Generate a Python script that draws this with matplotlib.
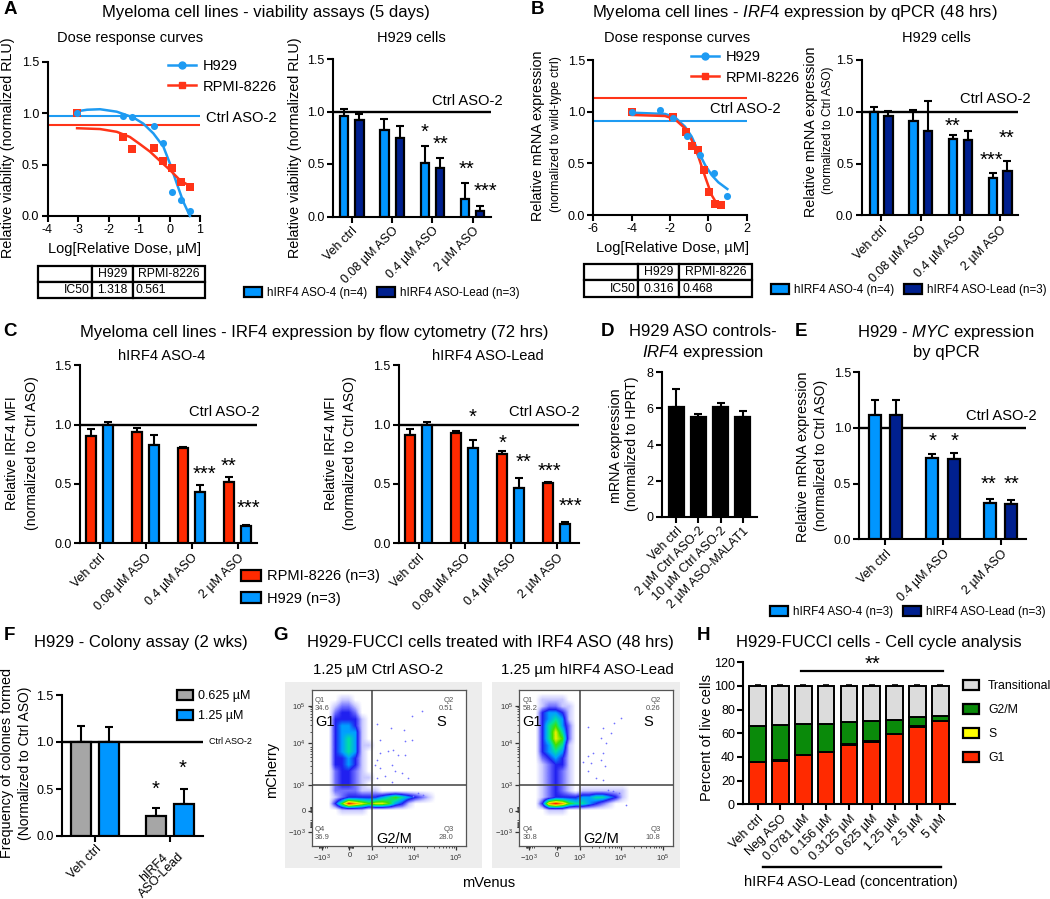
import numpy as np
import matplotlib
matplotlib.use("Agg")
import matplotlib.pyplot as plt
from matplotlib.colors import LinearSegmentedColormap
from matplotlib.lines import Line2D
from matplotlib.patches import Patch, Rectangle

plt.rcParams["font.family"] = ["Liberation Sans", "DejaVu Sans"]
plt.rcParams["mathtext.fontset"] = "custom"
plt.rcParams["mathtext.rm"] = "Liberation Sans"
plt.rcParams["mathtext.it"] = "Liberation Sans:italic"
plt.rcParams["mathtext.default"] = "regular"

W, H = 1050, 899
BLUE = "#0096FF"
NAVY = "#00208F"
RED = "#FF2A00"
GREY = "#A6A6A6"
LINE_BLUE = "#1E9BF2"
LINE_RED = "#FF3418"

# panel A dose response
a_h929_x = [-3.03, -1.53, -1.22, -0.52, -0.21, 0.08, 0.39, 0.68]
a_h929_y = [1.0, 0.974, 0.967, 0.88, 0.714, 0.23, 0.156, 0.05]
a_rpmi_x = [-3.03, -1.53, -1.22, -0.52, -0.21, 0.08, 0.39, 0.68]
a_rpmi_y = [1.0, 0.77, 0.65, 0.66, 0.54, 0.467, 0.334, 0.28]
a_h929_fit_x = [-3.03, -2.7, -2.28, -1.73, -1.19, -0.86, -0.53, -0.2, 0.015, 0.235, 0.45, 0.67]
a_h929_fit_y = [1.02, 1.035, 1.04, 1.016, 0.96, 0.90, 0.805, 0.675, 0.51, 0.32, 0.14, 0.0]
a_rpmi_fit_x = [-3.03, -2.28, -1.73, -1.3, -0.97, -0.64, -0.31, 0.015, 0.34, 0.73]
a_rpmi_fit_y = [0.855, 0.847, 0.82, 0.77, 0.70, 0.627, 0.536, 0.448, 0.35, 0.28]
a_ctrl_h929 = 0.974
a_ctrl_rpmi = 0.886

# panel A bars
dose_labels = ["Veh ctrl", "0.08 µM ASO", "0.4 µM ASO", "2 µM ASO"]
a_aso4 = [0.96, 0.82, 0.51, 0.165]
a_aso4_top = [1.02, 0.925, 0.67, 0.315]
a_lead = [0.92, 0.745, 0.465, 0.055]
a_lead_top = [0.98, 0.865, 0.555, 0.10]

# panel B dose response
b_h929_x = [-4, -2.52, -1.83, -1.13, -0.43, 0.28, 0.96]
b_h929_y = [0.995, 1.02, 0.944, 0.77, 0.582, 0.407, 0.184]
b_rpmi_x = [-4, -1.83, -1.18, -0.83, -0.52, -0.23, 0.05, 0.35, 0.66]
b_rpmi_y = [1.0, 0.947, 0.80, 0.67, 0.63, 0.436, 0.22, 0.11, 0.094]
b_h929_fit_x = [-4, -2.26, -1.74, -1.22, -0.87, -0.52, -0.17, 0.17, 0.52, 0.99]
b_h929_fit_y = [0.992, 0.98, 0.947, 0.857, 0.76, 0.614, 0.485, 0.388, 0.317, 0.252]
b_rpmi_fit_x = [-4, -2.26, -1.74, -1.22, -0.87, -0.52, -0.17, 0.17, 0.43, 0.78]
b_rpmi_fit_y = [0.97, 0.96, 0.928, 0.84, 0.727, 0.566, 0.372, 0.194, 0.113, 0.08]
b_ctrl_h929 = 0.915
b_ctrl_rpmi = 1.13

# panel B bars
b_aso4 = [1.0, 0.915, 0.735, 0.365]
b_aso4_top = [1.05, 1.02, 0.775, 0.41]
b_lead = [0.955, 0.81, 0.73, 0.43]
b_lead_top = [1.01, 1.10, 0.815, 0.52]

# panel C
c1_rpmi = [0.905, 0.935, 0.80, 0.52]
c1_rpmi_top = [0.96, 0.975, 0.815, 0.56]
c1_h929 = [1.0, 0.825, 0.43, 0.145]
c1_h929_top = [1.02, 0.915, 0.49, 0.155]
c2_rpmi = [0.91, 0.93, 0.75, 0.51]
c2_rpmi_top = [0.96, 0.95, 0.775, 0.52]
c2_h929 = [1.0, 0.80, 0.465, 0.16]
c2_h929_top = [1.025, 0.87, 0.55, 0.18]

# panel D
d_labels = ["Veh ctrl", "2 µM Ctrl ASO-2", "10 µM Ctrl ASO-2", "2 µM ASO-MALAT1"]
d_vals = [6.05, 5.5, 6.1, 5.55]
d_top = [7.1, 5.7, 6.3, 5.85]

# panel E
e_labels = ["Veh ctrl", "0.4 µM ASO", "2 µM ASO"]
e_aso4 = [1.12, 0.73, 0.33]
e_aso4_top = [1.25, 0.77, 0.365]
e_lead = [1.12, 0.725, 0.32]
e_lead_top = [1.25, 0.775, 0.35]

# panel F
f_labels = ["Veh ctrl", "hIRF4\nASO-Lead"]
f_low = [1.0, 0.215]
f_low_top = [1.175, 0.30]
f_high = [1.0, 0.345]
f_high_top = [1.155, 0.50]

# panel G, density read by eye on a 23 x 24 grid, 0 = empty, 9 = red
g_ctrl_density = [
    "00000000000000000000000",
    "00001100000000000000000",
    "00012210000000000000000",
    "00023320000000000000000",
    "00033331000000000000000",
    "00034431000000000000000",
    "00034441000000000000000",
    "00034541000000000000000",
    "00034541100000000000000",
    "00034541000000000000000",
    "00033431000000000000000",
    "00033431000000000000000",
    "00023321000000000000000",
    "00023321100000000000000",
    "00023321000000000000000",
    "00022221110000000000000",
    "00012333334565432100000",
    "00036987677643100000000",
    "00001111000000000000000",
    "00000000000000000000000",
    "00000000000000000000000",
    "00000000000000000000000",
    "00000000000000000000000",
    "00000000000000000000000",
]
g_lead_density = [
    "00000000000000000000000",
    "00011110000000000000000",
    "00012211000000000000000",
    "00034431000000000000000",
    "00034541000000000000000",
    "00035642000000000000000",
    "00035752000000000000000",
    "00035762000000000000000",
    "00034651000000000000000",
    "00034541000000000000000",
    "00023431000000000000000",
    "00012331000000000000000",
    "00012321000000000000000",
    "00012321000000000000000",
    "00012321000000000000000",
    "00012321011111110000000",
    "00012333344554310000000",
    "00038986554321000000000",
    "00001110000000000000000",
    "00000000000000000000000",
    "00000000000000000000000",
    "00000000000000000000000",
    "00000000000000000000000",
    "00000000000000000000000",
]
g_ctrl_dots_x = [4.18, 3.96, 3.45, 3.77, 3.10, 3.18, 3.78, 3.94, 3.50, 3.37, 3.18, 3.10, 3.62,
                 3.78, 3.46, 3.06, 3.18, 3.54, 3.70, 3.86, 3.30, 3.10, 3.48, 4.10, 4.22, 3.98]
g_ctrl_dots_y = [4.88, 4.76, 4.44, 4.40, 4.54, 4.14, 4.10, 4.14, 3.89, 3.85, 3.81, 3.64, 3.76,
                 3.76, 3.51, 3.51, 3.42, 3.34, 3.30, 3.17, 3.21, 3.17, 3.08, 2.79, 2.75, 2.70]
g_lead_dots_x = [4.0, 3.84, 3.56, 3.20, 3.76, 3.52, 3.64, 3.32, 3.20, 3.56, 3.52, 3.28, 3.08,
                 3.60, 3.20, 3.40, 3.56, 3.80, 3.96, 4.12, 3.68]
g_lead_dots_y = [4.69, 4.57, 4.44, 4.48, 4.31, 4.19, 4.06, 3.81, 3.72, 3.81, 3.64, 3.55, 3.59,
                 3.47, 3.34, 3.17, 3.13, 2.83, 2.79, 2.49, 2.87]
g_ctrl_quads = ["34.6", "0.51", "36.9", "28.0"]
g_lead_quads = ["58.2", "0.26", "30.8", "10.8"]

# panel H
h_labels = ["Veh ctrl", "Neg ASO", "0.0781 µM", "0.156 µM", "0.3125 µM",
            "0.625 µM", "1.25 µM", "2.5 µM", "5 µM"]
h_g1 = [35.5, 37, 41.5, 44, 50.5, 53, 59, 65.5, 70]
h_s = [0.5, 0.5, 0.5, 0.5, 0.5, 0.5, 0.5, 0.5, 0.5]
h_g2m = [30, 29.5, 25.5, 23, 18.5, 17, 12, 7.5, 4.5]
h_trans = [34, 33, 32.5, 32.5, 30.5, 29.5, 28.5, 26.5, 25]

fig = plt.figure(figsize=(W / 100, H / 100), dpi=100)


def px_axes(l, t, r, b):
    ax = fig.add_axes([l / W, 1 - b / H, (r - l) / W, (b - t) / H])
    return ax


def style(ax):
    ax.spines["top"].set_visible(False)
    ax.spines["right"].set_visible(False)
    ax.spines["left"].set_linewidth(1.5)
    ax.spines["bottom"].set_linewidth(1.5)
    ax.tick_params(width=1.5, length=4, labelsize=9, pad=2)
    ax.patch.set_alpha(0)


def txt(x, y, s, size=10.5, **kw):
    kw.setdefault("ha", "center")
    kw.setdefault("va", "center")
    return fig.text(x / W, 1 - y / H, s, fontsize=size, **kw)


def stars(ax, x, y, s):
    # the asterisk sits high in its box so anchor it lower
    ax.text(x, y, s, fontsize=14.5, ha="center", va="center", clip_on=False, zorder=6)


def grouped(ax, x0, unit, off, width, series, labels, ylim, yticks, ctrl=1.0, size=9.7):
    l, r = ax.get_position().x0 * W, ax.get_position().x1 * W
    ax.set_xlim((l - x0) / unit, (r - x0) / unit)
    ax.set_ylim(*ylim)
    if ctrl is not None:
        ax.axhline(ctrl, color="black", lw=1.7, zorder=1)
    n = len(series)
    for i, (vals, tops, color) in enumerate(series):
        pos = np.arange(len(vals)) + (i - (n - 1) / 2) * off / unit
        ax.bar(pos, vals, width=width / unit, color=color, edgecolor="black", linewidth=1.6, zorder=3)
        err = [np.zeros(len(vals)), np.array(tops) - np.array(vals)]
        ax.errorbar(pos, vals, yerr=err, fmt="none", ecolor="black", elinewidth=1.5,
                    capsize=3, capthick=1.5, zorder=2)
    ax.set_xticks(range(len(labels)))
    ax.set_xticklabels(labels, rotation=45, ha="right", rotation_mode="anchor", fontsize=size)
    ax.set_yticks(yticks)
    style(ax)


def swatch_legend(handles, x, y, size=9, ncol=1, **kw):
    return fig.legend(handles=handles, loc="center left", bbox_to_anchor=(x / W, 1 - y / H),
                      frameon=False, fontsize=size, ncol=ncol, borderpad=0, borderaxespad=0, **kw)


def bar_handle(color, label):
    return Patch(facecolor=color, edgecolor="black", linewidth=1.6, label=label)


def small_table(l, t, r, b, widths, col_names, row_values):
    ax = px_axes(l, t, r, b)
    ax.axis("off")
    tab = ax.table(cellText=[col_names, row_values], colWidths=widths, bbox=[0, 0, 1, 1])
    tab.auto_set_font_size(False)
    tab.set_fontsize(8.8)
    for key, cell in tab.get_celld().items():
        cell.set_linewidth(1.6)
        cell.PAD = 0.04
        if key == (1, 0):
            cell.set_text_props(ha="right")
        elif key == (1, 2):
            cell.set_text_props(ha="left")
        else:
            cell.set_text_props(ha="center")


def dose_plot(ax, xlim, xticks, h_x, h_y, r_x, r_y, hf_x, hf_y, rf_x, rf_y, c_h, c_r):
    ax.plot(hf_x, hf_y, color=LINE_BLUE, lw=1.8, zorder=3, clip_on=False)
    ax.plot(rf_x, rf_y, color=LINE_RED, lw=1.8, zorder=3, clip_on=False)
    ax.scatter(r_x, r_y, marker="s", s=26, color=LINE_RED, zorder=4, clip_on=False, linewidths=0)
    ax.scatter(h_x, h_y, marker="o", s=26, color=LINE_BLUE, zorder=5, clip_on=False, linewidths=0)
    ax.plot(xlim, [c_h, c_h], color=LINE_BLUE, lw=1.5)
    ax.plot(xlim, [c_r, c_r], color=LINE_RED, lw=1.5)
    ax.set_xlim(*xlim)
    ax.set_ylim(0, 1.5)
    ax.set_xticks(xticks)
    ax.set_yticks([0, 0.5, 1.0, 1.5])
    ax.set_xticklabels([str(v) for v in xticks])
    style(ax)


y_ticks = [0, 0.5, 1.0, 1.5]
y_labels = ["0.0", "0.5", "1.0", "1.5"]
TITLE = 12
LEG = dict(handlelength=1.5, handleheight=0.9, handletextpad=0.45, columnspacing=0.9)

dose_handles = [
    Line2D([], [], color=LINE_BLUE, lw=1.8, marker="o", ms=5, label="H929"),
    Line2D([], [], color=LINE_RED, lw=1.8, marker="s", ms=5, label="RPMI-8226"),
]

# ---- panel A
txt(10, 9, "A", 13.5, weight="bold")
txt(266, 13, "Myeloma cell lines - viability assays (5 days)", TITLE)
txt(130, 38, "Dose response curves")
txt(411, 38, "H929 cells")
ax = px_axes(47.5, 62, 200, 216)
dose_plot(ax, (-4, 1), [-4, -3, -2, -1, 0, 1], a_h929_x, a_h929_y, a_rpmi_x, a_rpmi_y,
          a_h929_fit_x, a_h929_fit_y, a_rpmi_fit_x, a_rpmi_fit_y, a_ctrl_h929, a_ctrl_rpmi)
ax.set_yticklabels(y_labels)
txt(8, 148, "Relative viability (normalized RLU)", 10.4, rotation=90)
txt(125, 249, "Log[Relative Dose, µM]")
txt(241, 118, "Ctrl ASO-2", 10.6)
swatch_legend(dose_handles, 168, 76.5, 10.5, handlelength=1.9, handletextpad=0.5, labelspacing=0.42)
small_table(38.3, 265.7, 205, 297.7, [53.4, 41, 72.3], ["", "H929", "RPMI-8226"], ["IC50", "1.318", "0.561"])

ax = px_axes(333, 59, 491, 216.5)
grouped(ax, 351.7, 40.3, 15.3, 8.3, [(a_aso4, a_aso4_top, BLUE), (a_lead, a_lead_top, NAVY)],
        dose_labels, (0, 1.5), y_ticks)
ax.set_yticklabels(y_labels)
for x, y, s in [(1.81, 0.84, "*"), (2.21, 0.725, "**"), (2.84, 0.49, "**"), (3.31, 0.28, "***")]:
    stars(ax, x, y - 0.04, s)
txt(295, 148, "Relative viability (normalized RLU)", 10.4, rotation=90)
txt(467, 101, "Ctrl ASO-2", 10.6)
swatch_legend([bar_handle(BLUE, "hIRF4 ASO-4 (n=4)"), bar_handle(NAVY, "hIRF4 ASO-Lead (n=3)")],
              244, 293, 8.4, ncol=2, **LEG)

# ---- panel B
txt(537, 9, "B", 13.5, weight="bold")
txt(795, 13, r"Myeloma cell lines - $\it{IRF4}$ expression by qPCR (48 hrs)", TITLE)
txt(677, 38, "Dose response curves")
txt(936, 38, "H929 cells")
ax = px_axes(593.3, 60.3, 746.7, 215)
dose_plot(ax, (-6, 2), [-6, -4, -2, 0, 2], b_h929_x, b_h929_y, b_rpmi_x, b_rpmi_y,
          b_h929_fit_x, b_h929_fit_y, b_rpmi_fit_x, b_rpmi_fit_y, b_ctrl_h929, b_ctrl_rpmi)
ax.set_yticklabels(y_labels)
txt(538, 136, "Relative mRNA expression", 10.3, rotation=90)
txt(556, 134, "(normalized to wild-type ctrl)", 8.9, rotation=90)
txt(672, 248, "Log[Relative Dose, µM]")
txt(745, 109, "Ctrl ASO-2", 10.6)
swatch_legend(dose_handles, 691, 67.5, 10.5, handlelength=1.9, handletextpad=0.5, labelspacing=0.42)
small_table(584.3, 264, 751.7, 296.7, [53.4, 41.6, 72.4], ["", "H929", "RPMI-8226"], ["IC50", "0.316", "0.468"])

ax = px_axes(861.7, 60, 1018, 215.3)
grouped(ax, 881, 39.7, 14.7, 8.3, [(b_aso4, b_aso4_top, BLUE), (b_lead, b_lead_top, NAVY)],
        dose_labels, (0, 1.5), y_ticks)
ax.set_yticklabels(y_labels)
for x, y, s in [(1.79, 0.90, "**"), (3.15, 0.78, "**"), (2.79, 0.575, "***")]:
    stars(ax, x, y - 0.04, s)
txt(811, 132, "Relative mRNA expression", 10.3, rotation=90)
txt(828, 130, "(normalized to Ctrl ASO)", 8.5, rotation=90)
txt(995, 99, "Ctrl ASO-2", 10.6)
swatch_legend([bar_handle(BLUE, "hIRF4 ASO-4 (n=4)"), bar_handle(NAVY, "hIRF4 ASO-Lead (n=3)")],
              771, 290, 8.4, ncol=2, **LEG)

# ---- panel C
txt(10, 332, "C", 13.5, weight="bold")
txt(314.5, 332, "Myeloma cell lines - IRF4 expression by flow cytometry (72 hrs)", TITLE)
txt(162, 356, "hIRF4 ASO-4")
txt(488, 356, "hIRF4 ASO-Lead")
ax = px_axes(80, 365.3, 257, 543.3)
grouped(ax, 99.7, 46, 17.2, 10, [(c1_rpmi, c1_rpmi_top, RED), (c1_h929, c1_h929_top, BLUE)],
        dose_labels, (0, 1.5), y_ticks)
ax.set_yticklabels(y_labels)
for x, y, s in [(2.27, 0.62, "***"), (2.79, 0.68, "**"), (3.23, 0.33, "***")]:
    stars(ax, x, y - 0.035, s)
txt(12, 453, "Relative IRF4 MFI", 10.2, rotation=90)
txt(32, 453, "(normalized to Ctrl ASO)", 10.2, rotation=90)
txt(224, 412, "Ctrl ASO-2", 10.6)

ax = px_axes(399, 365.3, 579, 543.3)
grouped(ax, 418.7, 46, 17.2, 10, [(c2_rpmi, c2_rpmi_top, RED), (c2_h929, c2_h929_top, BLUE)],
        dose_labels, (0, 1.5), y_ticks)
ax.set_yticklabels(y_labels)
for x, y, s in [(1.17, 1.095, "*"), (1.83, 0.875, "*"), (2.28, 0.715, "**"), (2.85, 0.64, "***"), (3.3, 0.35, "***")]:
    stars(ax, x, y - 0.035, s)
txt(331, 453, "Relative IRF4 MFI", 10.2, rotation=90)
txt(350, 453, "(normalized to Ctrl ASO)", 10.2, rotation=90)
txt(544, 412, "Ctrl ASO-2", 10.6)
swatch_legend([bar_handle(RED, "RPMI-8226 (n=3)"), bar_handle(BLUE, "H929 (n=3)")],
              241, 587.5, 10.5, handlelength=1.35, handleheight=0.85, handletextpad=0.42, labelspacing=0.55)

# ---- panel D
txt(608, 332, "D", 13.5, weight="bold")
txt(703, 332, "H929 ASO controls-", TITLE)
txt(703, 353, r"$\it{IRF4}$ expression", TITLE)
ax = px_axes(662, 372.3, 757.3, 516.7)
grouped(ax, 676.3, 22.1, 22.1, 15.5, [(d_vals, d_top, "black")], d_labels, (0, 8), [0, 2, 4, 6, 8],
        ctrl=None, size=9)
txt(616, 446, "mRNA expression", 10.3, rotation=90)
txt(632, 444, "(normalized to HPRT)", 10, rotation=90)

# ---- panel E
txt(801, 332, "E", 13.5, weight="bold")
txt(946, 332, r"H929 - $\it{MYC}$ expression", TITLE)
txt(946, 353, "by qPCR", TITLE)
ax = px_axes(859.3, 372.3, 1026, 539.3)
grouped(ax, 885.3, 57.7, 21.5, 12, [(e_aso4, e_aso4_top, BLUE), (e_lead, e_lead_top, NAVY)],
        e_labels, (0, 1.5), y_ticks)
ax.set_yticklabels(y_labels)
for x, y, s in [(0.82, 0.913, "*"), (1.2, 0.913, "*"), (1.79, 0.527, "**"), (2.19, 0.527, "**")]:
    stars(ax, x, y - 0.035, s)
txt(803, 457, "Relative mRNA expression", 10.3, rotation=90)
txt(821, 455, "(normalized to Ctrl ASO)", 10, rotation=90)
txt(1001, 416, "Ctrl ASO-2", 10.6)
swatch_legend([bar_handle(BLUE, "hIRF4 ASO-4 (n=3)"), bar_handle(NAVY, "hIRF4 ASO-Lead (n=3)")],
              770, 612, 8.4, ncol=2, **LEG)

# ---- panel F
txt(9, 636, "F", 13.5, weight="bold")
txt(141, 643, "H929 - Colony assay (2 wks)", TITLE)
ax = px_axes(62, 695, 202.7, 836)
grouped(ax, 95, 75, 28, 19.3, [(f_low, f_low_top, GREY), (f_high, f_high_top, BLUE)],
        f_labels, (0, 1.5), y_ticks, size=8.5)
ax.set_yticklabels(y_labels)
ax.tick_params(axis="x", pad=1)
for tick_label in ax.get_xticklabels():
    tick_label.set_multialignment("center")
    tick_label.set_linespacing(0.9)
for x, y, s in [(0.81, 0.54, "*"), (1.17, 0.76, "*")]:
    stars(ax, x, y - 0.04, s)
txt(7, 763, "Frequency of colonies formed", 10.4, rotation=90)
txt(25, 763, "(Normalized to Ctrl ASO)", 10, rotation=90)
txt(230, 742, "Ctrl ASO-2", 6.5)
swatch_legend([bar_handle(GREY, "0.625 µM"), bar_handle(BLUE, "1.25 µM")],
              177, 706, 9, handlelength=1.3, handleheight=0.9, handletextpad=0.4, labelspacing=0.6)

# ---- panel G
flow_cmap = LinearSegmentedColormap.from_list(
    "flow", ["#FFFFFF", "#C8C8FF", "#7070FF", "#2020F0", "#00A0FF", "#00E0A0", "#40E000",
             "#F0F000", "#FF9000", "#FF0000"])


def flow_plot(panel_box, frame_box, density, dots_x, dots_y, quads):
    l, t, r, b = panel_box
    fig.add_artist(Rectangle((l / W, 1 - b / H), (r - l) / W, (b - t) / H, transform=fig.transFigure,
                             facecolor="#EDEDED", edgecolor="none", zorder=0))
    ax = px_axes(*frame_box)
    ax.set_facecolor("white")
    xlim = (1.55, 5.24)
    ylim = (1.44, 5.41)
    grid = np.array([[int(c) for c in row] for row in density], dtype=float)
    ax.imshow(grid, extent=[xlim[0], xlim[1], ylim[0], ylim[1]], origin="upper", aspect="auto",
              cmap=flow_cmap, vmin=0, vmax=9, interpolation="bilinear", zorder=1)
    ax.scatter(dots_x, dots_y, s=1.5, color="#7070FF", linewidths=0, zorder=2)
    ax.axvline(3, color="#404040", lw=1.1, zorder=3)
    ax.axhline(3, color="#404040", lw=1.1, zorder=3)
    ax.set_xlim(*xlim)
    ax.set_ylim(*ylim)
    ax.set_xticks([1.79, 2.45, 3, 4, 5])
    ax.set_xticklabels(["$-10^{3}$", "0", "$10^{3}$", "$10^{4}$", "$10^{5}$"])
    ax.set_yticks([1.79, 2.34, 3, 4.07, 5.01])
    ax.set_yticklabels(["$-10^{3}$", "0", "$10^{3}$", "$10^{4}$", "$10^{5}$"])
    decade = np.log10(np.arange(2, 10))
    ax.set_xticks(np.concatenate([3 + decade, 4 + decade, 2.35 + 0.2 * decade, 2.0 - 0.3 * decade]), minor=True)
    ax.set_yticks(np.concatenate([3 + decade, 4.07 + decade * 0.94, 2.24 + 0.2 * decade, 2.2 - 0.3 * decade]), minor=True)
    ax.tick_params(axis="both", which="major", labelsize=5.5, length=3, width=0.9, pad=1.5, colors="#333333")
    ax.tick_params(axis="both", which="minor", length=1.5, width=0.6, colors="#333333")
    for spine in ax.spines.values():
        spine.set_linewidth(0.9)
        spine.set_color("#555555")
    ax.text(0.02, 0.955, "Q1\n" + quads[0], transform=ax.transAxes, fontsize=5.5, color="#555555", va="top", linespacing=1.1)
    ax.text(0.92, 0.955, "Q2\n" + quads[1], transform=ax.transAxes, fontsize=5.5, color="#555555", va="top", ha="right", linespacing=1.1)
    ax.text(0.02, 0.035, "Q4\n" + quads[2], transform=ax.transAxes, fontsize=5.5, color="#555555", va="bottom", linespacing=1.1)
    ax.text(0.92, 0.035, "Q3\n" + quads[3], transform=ax.transAxes, fontsize=5.5, color="#555555", va="bottom", ha="right", linespacing=1.1)
    ax.text(0.02, 0.795, "G1", transform=ax.transAxes, fontsize=10.5, va="center")
    ax.text(0.875, 0.795, "S", transform=ax.transAxes, fontsize=10.5, va="center", ha="right")
    ax.text(0.415, 0.045, "G2/M", transform=ax.transAxes, fontsize=10.5, va="center")


txt(281, 636, "G", 13.5, weight="bold")
txt(490, 643, "H929-FUCCI cells treated with IRF4 ASO (48 hrs)", TITLE)
txt(378, 670, "1.25 µM Ctrl ASO-2", 10.8)
txt(587, 670, "1.25 µm hIRF4 ASO-Lead", 10.8)
flow_plot((284.7, 681.7, 482, 868), (312, 690, 465.7, 846), g_ctrl_density, g_ctrl_dots_x, g_ctrl_dots_y, g_ctrl_quads)
flow_plot((492, 681.7, 680, 868), (519.3, 690, 672.7, 846), g_lead_density, g_lead_dots_x, g_lead_dots_y, g_lead_quads)
txt(489, 883, "mVenus")
txt(272, 770, "mCherry", rotation=90)

# ---- panel H
txt(704, 635, "H", 13.5, weight="bold")
txt(879, 643, "H929-FUCCI cells - Cell cycle analysis", TITLE)
ax = px_axes(743.3, 662.3, 955.3, 804.3)
pos = np.arange(len(h_labels))
bottom = np.zeros(len(h_labels))
for vals, color in [(h_g1, RED), (h_s, "#FFFF00"), (h_g2m, "#0A8A0A"), (h_trans, "#DCDCDC")]:
    ax.bar(pos, vals, bottom=bottom, width=0.73, color=color, edgecolor="black", linewidth=1.4, zorder=3)
    bottom = bottom + np.array(vals)
    ax.errorbar(pos, bottom, yerr=[np.zeros(len(pos)), np.full(len(pos), 0.8)], fmt="none", ecolor="black",
                elinewidth=1.2, capsize=2.5, capthick=1.2, zorder=2)
ax.set_xlim(-0.63, 8.66)
ax.set_ylim(0, 120)
ax.set_yticks(range(0, 121, 20))
ax.set_xticks(pos)
ax.set_xticklabels(h_labels, rotation=45, ha="right", rotation_mode="anchor", fontsize=8.3)
style(ax)
ax.plot([1.88, 8.1], [113, 113], color="black", lw=1.6)
stars(ax, 5.02, 118, "**")
trans = ax.get_xaxis_transform()
ax.plot([0.25, 8.03], [-0.439, -0.439], color="black", lw=1.7, transform=trans, clip_on=False)
txt(707, 737.5, "Percent of live cells", rotation=90)
txt(850.7, 882, "hIRF4 ASO-Lead (concentration)")
swatch_legend([bar_handle("#DCDCDC", "Transitional"), bar_handle("#0A8A0A", "G2/M"),
               bar_handle("#FFFF00", "S"), bar_handle(RED, "G1")],
              963, 722, 8.8, handlelength=1.3, handleheight=0.9, handletextpad=0.75, labelspacing=0.95)

plt.savefig("out.png", dpi=100)
